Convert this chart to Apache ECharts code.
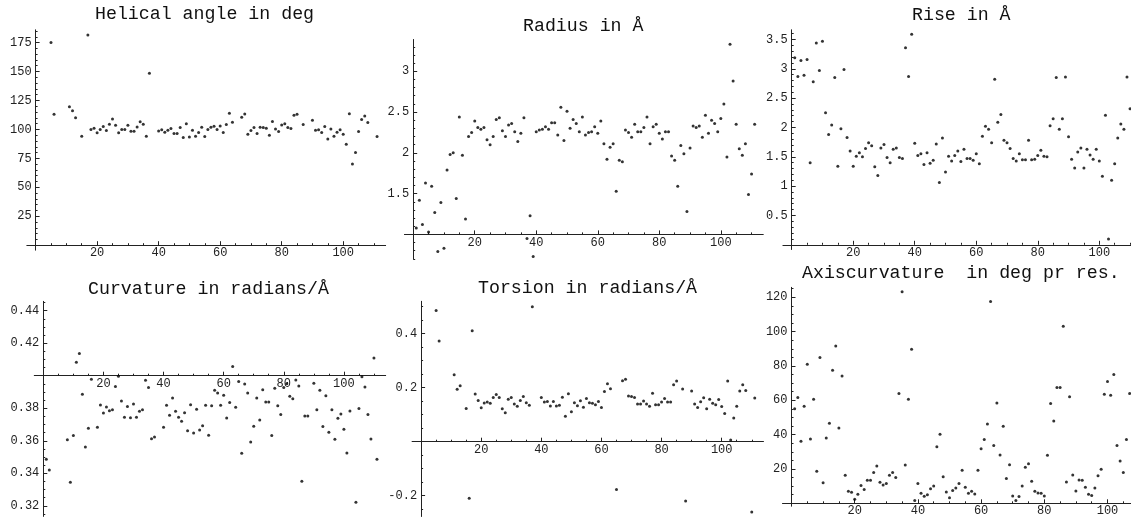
<!DOCTYPE html>
<html><head><meta charset="utf-8">
<script src="https://cdn.jsdelivr.net/npm/echarts@6/dist/echarts.min.js"></script>
<style>html,body{margin:0;padding:0;background:#fff}#c{width:1131px;height:517px}</style>
</head><body><div id="c"></div>
<script>
// ---------------- data (residue index = position in array, starting at 1) ----------------
const titles = ['Helical angle in deg', 'Radius in \u00C5', 'Rise in \u00C5',
  'Curvature in radians/\u00C5', 'Torsion in radians/\u00C5', 'Axiscurvature  in deg pr res.'];

const helical = [null,null,null,null,175,113,null,null,null,null,
  119.5,116,110,null,94,null,181.6,100,101,97,
  100,102.5,99,104.5,109,103.5,97,100,100,103.5,
  98.5,98.5,102,106.5,104.5,94,148.5,null,null,98.7,
  99.6,97.6,99.3,100.7,96.4,96.4,101.6,93,104.8,93.5,
  99.3,94.1,97.3,101.9,93.8,99.9,101.9,102.8,99.9,103,
  97.3,104.2,113.9,106.1,null,null,110.5,113.4,95.8,99,
  101.6,96.4,101.9,101.6,101,95,106.8,100.4,98.1,103.9,
  104.8,101.6,100.7,112.3,113.1,null,104.2,null,null,107.9,
  99.3,99.6,97.3,102.5,91.8,100.4,94.1,97.6,99.6,95.8,
  87.1,113.6,70.2,80,98.1,108.5,111.6,105.9,null,null,93.8];

const radius = [1.08,1.42,1.12,1.63,1.03,1.59,1.27,0.79,1.39,0.83,
  1.79,1.98,2.00,1.44,2.44,1.97,1.19,2.20,2.25,2.39,
  2.31,2.29,2.31,2.16,2.10,2.20,2.41,2.43,2.27,2.20,
  2.34,2.36,2.26,2.14,2.24,2.43,0.95,1.23,0.73,2.26,
  2.28,2.29,2.32,2.29,2.37,2.37,2.22,2.56,2.15,2.51,
  2.30,2.41,2.36,2.26,2.44,2.22,2.25,2.26,2.32,2.24,
  2.39,2.11,1.92,2.07,2.11,1.53,1.91,1.89,2.28,2.25,
  2.19,2.35,2.26,2.26,2.31,2.44,2.11,2.32,2.35,2.24,
  2.17,2.26,2.26,1.96,1.91,1.59,2.09,1.99,1.28,2.06,
  2.33,2.31,2.33,2.19,2.46,2.24,2.40,2.36,2.26,2.42,
  2.60,1.95,3.33,2.88,2.35,2.05,1.97,2.11,1.49,1.74,2.35];

const rise = [3.19,2.87,3.14,2.89,3.16,1.40,2.78,3.44,2.97,3.47,
  2.25,1.88,2.04,2.85,1.34,1.98,2.99,1.83,1.60,1.34,
  1.51,1.57,1.50,1.64,1.74,1.69,1.33,1.18,1.65,1.71,
  1.49,1.40,1.63,1.65,1.49,1.47,3.36,2.87,3.59,1.73,
  1.52,1.55,1.37,1.57,1.39,1.44,1.72,1.06,1.82,1.24,
  1.51,1.43,1.52,1.60,1.42,1.63,1.47,1.47,1.44,1.55,
  1.38,1.85,2.02,1.97,1.74,2.82,2.09,2.22,1.78,1.74,
  1.64,1.47,1.43,1.55,1.45,1.45,1.78,1.45,1.46,1.52,
  1.61,1.51,1.50,2.03,2.15,2.85,1.97,2.15,2.86,1.84,
  1.46,1.31,1.58,1.65,1.31,1.63,1.53,1.46,1.63,1.43,
  1.17,2.21,0.10,1.10,1.38,1.82,2.06,1.97,2.86,2.32];

const curvature = [0.3486,0.342,null,null,null,null,null,0.3607,0.3345,0.3632,
  0.4082,0.4136,0.3886,0.3562,0.3677,0.3978,null,0.3683,0.382,0.3771,
  0.3808,0.3785,0.3791,0.3933,0.3996,0.3845,0.3744,0.381,0.3742,0.3826,
  0.3744,0.3781,0.3791,0.3972,0.3927,0.3613,0.3623,null,null,0.3683,
  0.3818,0.3757,0.3863,0.3781,0.3744,0.372,0.3773,0.3662,0.3821,0.3648,
  0.3794,0.3666,0.3693,0.3818,0.3634,0.3816,0.391,0.3894,0.3818,0.388,
  0.374,0.3836,0.4056,0.3806,0.3964,0.3523,0.3949,0.3894,0.3593,0.3689,
  0.3863,0.3728,0.3914,0.3839,0.3839,0.3632,0.3923,0.3816,0.3761,0.3927,
  0.3951,0.3873,0.3859,0.3974,0.3937,0.3351,0.3752,0.3752,null,0.3953,
  0.3791,0.391,0.3687,0.3877,0.3652,0.3791,0.3609,0.3738,0.3765,0.3671,
  0.3525,0.3783,null,0.3222,0.3798,0.3994,0.3931,0.3761,0.3611,0.4109,0.3486];

const torsion = [null,null,null,null,0.486,0.373,null,null,null,null,
  0.248,0.194,0.207,null,0.123,-0.209,0.411,0.177,0.153,0.126,
  0.143,0.147,0.142,0.164,0.175,0.164,0.122,0.107,0.157,0.164,
  0.14,0.131,0.153,0.167,0.144,0.135,0.5,null,null,0.164,
  0.147,0.149,0.132,0.149,0.132,0.135,0.165,0.094,0.178,0.111,
  0.144,0.133,0.152,0.128,0.16,0.144,0.142,0.137,0.149,0.127,
  0.186,0.215,0.196,null,-0.177,null,0.226,0.231,0.169,0.167,
  0.164,0.14,0.14,0.151,0.14,0.131,0.179,0.137,0.137,0.147,
  0.16,0.147,0.147,0.211,0.225,null,0.195,-0.22,null,0.188,
  0.14,0.127,0.148,0.163,0.122,0.157,0.142,0.137,0.156,0.13,
  0.104,0.225,0.006,0.088,0.131,0.188,0.211,0.19,null,-0.26,0.162];

const axisCurvature = [55.1,61.6,36.1,56.5,81.0,37.5,60.6,18.6,85.0,12.0,
  38.1,46.6,77.5,91.7,43.9,74.2,16.3,7.0,6.4,2.3,
  5.2,10.3,8.0,13.4,13.4,17.9,21.7,12.2,10.7,11.5,
  16.3,17.9,15.1,63.9,123.3,22.3,60.6,89.7,1.6,11.5,
  5.8,4.1,5.0,8.5,10.1,33.0,40.2,15.5,6.6,3.3,
  7.5,8.9,11.5,19.2,9.3,5.8,7.0,5.4,19.2,31.8,
  37.1,46.2,117.5,33.6,58.4,28.2,44.9,14.4,22.5,4.3,
  1.7,3.9,10.1,21.0,23.1,12.8,7.0,6.0,5.8,4.3,
  28.0,58.1,48.0,67.4,67.4,103.1,12.4,62.1,16.5,7.2,
  13.6,13.4,9.3,5.2,4.5,8.9,16.1,19.8,63.5,70.9,
  62.9,75.1,33.6,24.7,17.9,37.1,63.9];

// tick labels
const xTicks = [20, 40, 60, 80, 100];
const helicalTicks = [25, 50, 75, 100, 125, 150, 175];
const radiusTicks = [1.5, 2, 2.5, 3];
const riseTicks = [0.5, 1, 1.5, 2, 2.5, 3, 3.5];
const curvatureTicks = [0.32, 0.34, 0.36, 0.38, 0.42, 0.44];
const torsionTicks = [-0.2, 0.2, 0.4];
const axisCurvatureTicks = [20, 40, 60, 80, 100, 120];

// ---------------- layout (pixel geometry of each panel) ----------------
// x0: pixel of x=0, sx: px per residue; y0: pixel of the x-axis crossing value, sy: px per y unit
const layouts = [
  {x0: 35.6,  sx: 3.076, y0: 245.2, sy: 1.158,  xr: [-2.85, 113.8], yr: [-4.3, 186],      cross: 0,    yMinor: 5,     tx: 95,  ty: 15},
  {x0: 413.2, sx: 3.076, y0: 234.4, sy: 81.56,  xr: [-2.85, 113.8], yr: [0.70, 3.39],     cross: 1.0,  yMinor: 0.1,   tx: 523, ty: 26.7},
  {x0: 791.7, sx: 3.076, y0: 244.8, sy: 58.67,  xr: [-2.85, 112.8], yr: [-0.08, 3.665],   cross: 0,    yMinor: 0.1,   tx: 912, ty: 15.7},
  {x0: 43.3,  sx: 3.006, y0: 375.7, sy: 1626.7, xr: [-3.0, 113.9],  yr: [0.3135, 0.4457], cross: 0.40, yMinor: 0.005, tx: 88,  ty: 289.7},
  {x0: 421.1, sx: 3.006, y0: 441.7, sy: 270,    xr: [-3.0, 113.9],  yr: [-0.277, 0.52],   cross: 0,    yMinor: 0.05,  tx: 478, ty: 289},
  {x0: 791.5, sx: 3.16,  y0: 503.3, sy: 1.7167, xr: [-2.85, 109.8], yr: [-1.7, 125.8],    cross: 0,    yMinor: 5,     tx: 802, ty: 273.7}
];

const series = [helical, radius, rise, curvature, torsion, axisCurvature];
const yTicks = [helicalTicks, radiusTicks, riseTicks, curvatureTicks, torsionTicks, axisCurvatureTicks];

const FONT = 'Liberation Mono';
const INK = '#222';

function fmt(v) { return String(parseFloat(v.toFixed(6))); }
function minorValues(lo, hi, step, skip) {
  const out = [];
  const k0 = Math.ceil(lo / step - 1e-9), k1 = Math.floor(hi / step + 1e-9);
  for (let k = k0; k <= k1; k++) {
    const v = parseFloat((k * step).toFixed(6));
    if (!skip.some(s => Math.abs(s - v) < 1e-9)) out.push(v);
  }
  return out;
}

const option = {animation: false, backgroundColor: '#fff', title: [], grid: [], xAxis: [], yAxis: [], series: []};

layouts.forEach((p, i) => {
  const left = p.x0 + p.xr[0] * p.sx;
  const width = (p.xr[1] - p.xr[0]) * p.sx;
  const top = p.y0 - (p.yr[1] - p.cross) * p.sy;
  const height = (p.yr[1] - p.yr[0]) * p.sy;
  option.grid.push({left, top, width, height, containLabel: false, outerBoundsMode: 'none'});
  option.title.push({text: titles[i], left: p.tx, top: p.ty - 10, padding: 0,
    textStyle: {fontFamily: FONT, fontSize: 18.25, fontWeight: 'normal', color: '#111'}});

  const xOff = -(p.cross - p.yr[0]) * p.sy;
  const yOff = -(0 - p.xr[0]) * p.sx;
  const xMinor = minorValues(1, p.xr[1], 5, xTicks);
  const yMinor = minorValues(p.yr[0], p.yr[1], p.yMinor, yTicks[i].concat([p.cross]));
  const lineStyle = {color: INK, width: 1};

  option.xAxis.push(
    {type: 'value', gridIndex: i, min: p.xr[0], max: p.xr[1], position: 'bottom', offset: xOff,
     splitLine: {show: false}, axisLine: {show: true, onZero: false, lineStyle},
     axisTick: {show: true, inside: true, length: 4, lineStyle, customValues: xTicks},
     axisLabel: {show: true, customValues: xTicks, margin: 2, fontFamily: FONT, fontSize: 12, color: INK, formatter: fmt}},
    {type: 'value', gridIndex: i, min: p.xr[0], max: p.xr[1], position: 'bottom', offset: xOff,
     splitLine: {show: false}, axisLine: {show: false, onZero: false},
     axisTick: {show: true, inside: true, length: 2, lineStyle, customValues: xMinor},
     axisLabel: {show: false}}
  );
  option.yAxis.push(
    {type: 'value', gridIndex: i, min: p.yr[0], max: p.yr[1], position: 'left', offset: yOff,
     splitLine: {show: false}, axisLine: {show: true, onZero: false, lineStyle},
     axisTick: {show: true, inside: true, length: 4, lineStyle, customValues: yTicks[i]},
     axisLabel: {show: true, customValues: yTicks[i], margin: 4, fontFamily: FONT, fontSize: 12, color: INK, formatter: fmt}},
    {type: 'value', gridIndex: i, min: p.yr[0], max: p.yr[1], position: 'left', offset: yOff,
     splitLine: {show: false}, axisLine: {show: false, onZero: false},
     axisTick: {show: true, inside: true, length: 2, lineStyle, customValues: yMinor},
     axisLabel: {show: false}}
  );

  const data = series[i].map((v, k) => [k + 1, v]).filter(d => d[1] != null);
  option.series.push({type: 'scatter', xAxisIndex: 2 * i, yAxisIndex: 2 * i, data,
    symbol: 'circle', symbolSize: 3, itemStyle: {color: '#000'}, clip: false, silent: true});
});

const chart = echarts.init(document.getElementById('c'), null, {renderer: 'canvas'});
chart.setOption(option);
</script>
</body></html>
